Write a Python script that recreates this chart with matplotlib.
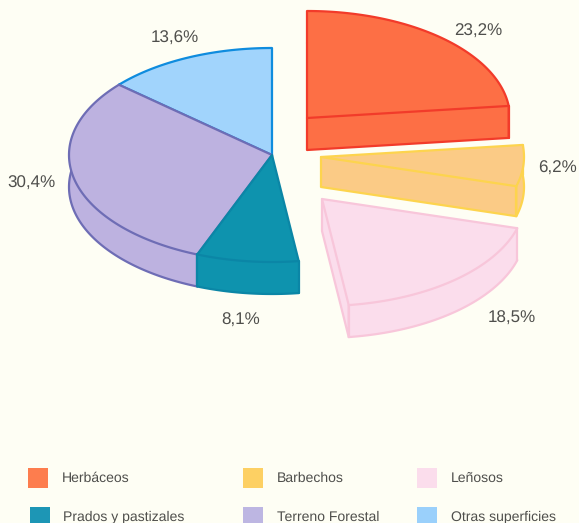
import numpy as np
import matplotlib
matplotlib.use("Agg")
import matplotlib.pyplot as plt
from matplotlib.patches import Polygon, Rectangle

plt.rcParams["text.hinting"] = "no_hinting"
plt.rcParams["text.hinting_factor"] = 1

categories = ["Herbáceos", "Barbechos", "Leñosos", "Prados y pastizales", "Terreno Forestal", "Otras superficies"]
values = [23.2, 6.2, 18.5, 8.1, 30.4, 13.6]
value_labels = ["23,2%", "6,2%", "18,5%", "8,1%", "30,4%", "13,6%"]
fills = ["#FD6F45", "#FBCB86", "#FBDDEC", "#0E93AE", "#BDB2E0", "#A1D4FC"]
edges = ["#F23B2A", "#FDD44E", "#F8C6DA", "#0B86A6", "#6E6DB5", "#0F8CDE"]
swatches = ["#FD7D4E", "#FDD063", "#FBDDEC", "#1D96B5", "#BDB6E2", "#9AD0FB"]

BG = "#FEFEF4"
RX, RY = 203, 107
centers = [(307, 118), (321, 157), (322, 199), (272, 155), (272, 155), (272, 155)]
depths = [32, 30, 32, 32, 32, 32]
label_xy = [(478, 31.5), (558, 168), (512, 318), (241, 320.5), (31.5, 183), (175, 38.5)]
legend_x = [28, 243, 417, 30, 243, 417]
legend_tx = [62, 277, 451, 63, 277, 451]
legend_y = [478, 478, 478, 517, 517, 517]

fig = plt.figure(figsize=(5.79, 5.23), dpi=100, facecolor=BG)
ax = fig.add_axes([0, 0, 1, 1])
ax.set_xlim(0, 579)
ax.set_ylim(523, 0)
ax.axis("off")

edges_pct = np.concatenate([[0], np.cumsum(values)])
starts = edges_pct[:-1] / 100 * 360
ends = edges_pct[1:] / 100 * 360


def arc(c, a0, a1):
    t = np.radians(np.linspace(a0, a1, 120))
    return np.column_stack([c[0] + RX * np.sin(t), c[1] - RY * np.cos(t)])


order = [5, 4, 3, 0, 1, 2]
for z0, i in enumerate(order):
    c, d = np.array(centers[i], float), depths[i]
    z = 2 + z0
    rim = arc(c, starts[i], ends[i])
    top = np.vstack([[c], rim])
    shift = np.array([0, d])
    ln = dict(color=edges[i], lw=1.6, solid_capstyle="round", zorder=z)
    fl = dict(facecolor=fills[i], edgecolor="none", zorder=z)
    # outer wall and its lower arc
    ax.add_patch(Polygon(top + shift, closed=True, **fl))
    ax.add_patch(Polygon(np.vstack([rim, (rim + shift)[::-1]]), closed=True, **fl))
    ax.plot(*(rim + shift).T, **ln)
    # radial cut faces, only when they face the viewer
    for p, facing in ((rim[0], -np.sin(np.radians(starts[i]))), (rim[-1], np.sin(np.radians(ends[i])))):
        if facing > 0:
            ax.add_patch(Polygon([c, p, p + shift, c + shift], closed=True, **fl))
            ax.plot(*np.array([c, c + shift, p + shift, p]).T, **ln)
    # vertical edges on the front part of the rim
    for p in (rim[0], rim[-1]):
        if p[1] > c[1] - 20:
            ax.plot(*np.array([p, p + shift]).T, **ln)
    ax.add_patch(Polygon(top, closed=True, facecolor=fills[i], edgecolor=edges[i],
                         lw=1.6, joinstyle="round", zorder=z))

for lab, (x, y) in zip(value_labels, label_xy):
    ax.text(x, y, lab, ha="center", va="center", fontsize=12.3, color="#4F4F4C",
            family="Liberation Sans", zorder=20)

for i, name in enumerate(categories):
    ax.add_patch(Rectangle((legend_x[i], legend_y[i] - 10), 20, 20,
                           facecolor=swatches[i], edgecolor="none", zorder=20))
    ax.text(legend_tx[i], legend_y[i], name, ha="left", va="center", fontsize=9.85,
            color="#4F4F4C", family="Liberation Sans", zorder=20)

fig.savefig("out.png", dpi=100, facecolor=BG)
